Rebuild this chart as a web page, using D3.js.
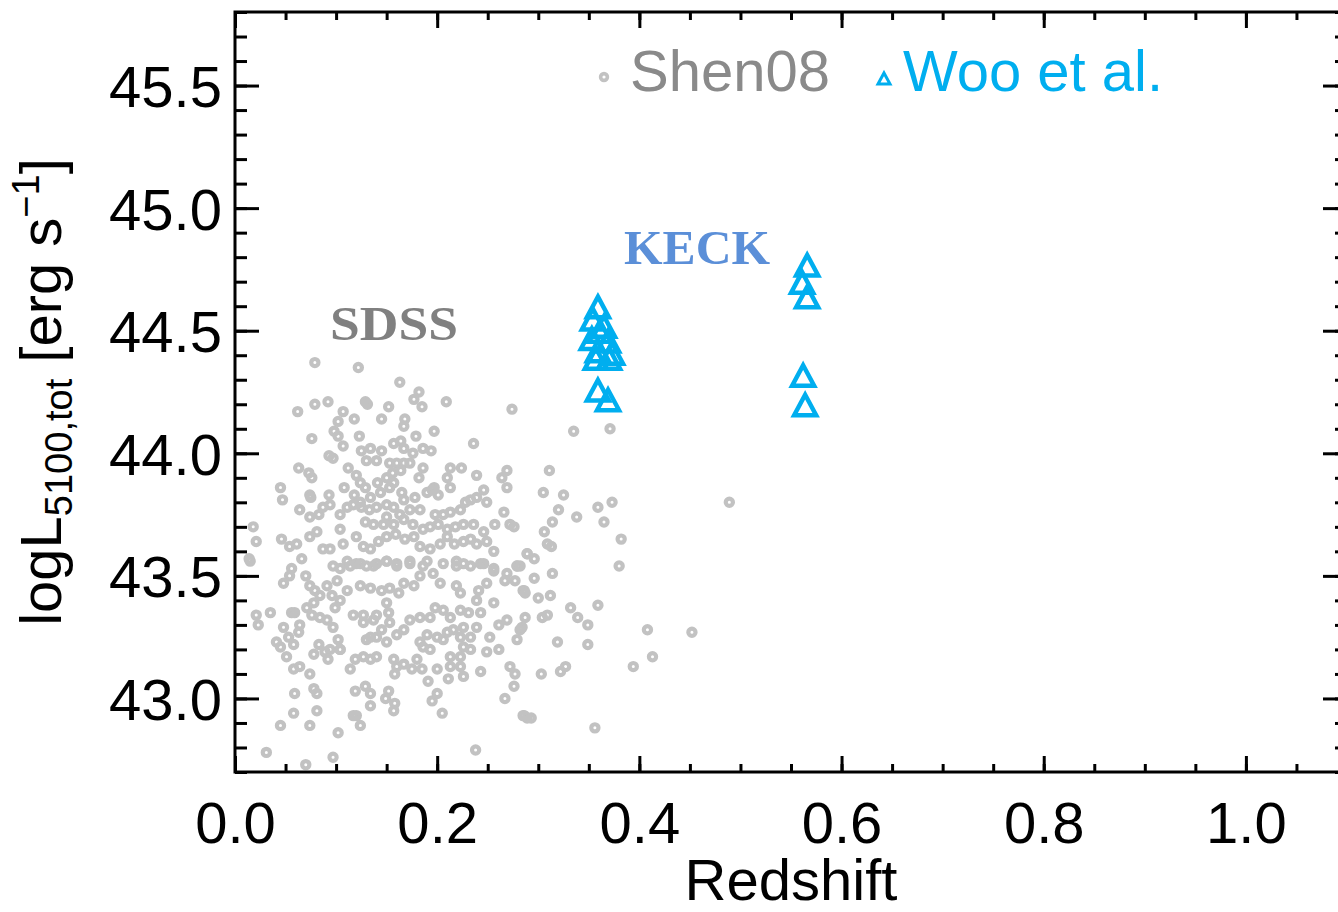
<!DOCTYPE html>
<html>
<head>
<meta charset="utf-8">
<script src="https://cdn.jsdelivr.net/npm/d3@7"></script>
<style>
body { margin: 0; background: #fff; }
svg { display: block; }
</style>
</head>
<body>
<svg id="chart" width="1338" height="912"></svg>
<script>
// Shen08 SDSS sample: [redshift, logL5100]
var shenPoints = [
  [0.079,44.37],[0.122,44.35],[0.163,44.29],[0.182,44.25],[0.177,44.22],[0.185,44.19],[0.209,44.21],[0.274,44.18],[0.062,44.17],[0.079,44.20],
  [0.092,44.21],[0.107,44.17],[0.129,44.21],[0.131,44.20],[0.152,44.19],[0.118,44.14],[0.145,44.14],[0.168,44.14],[0.167,44.11],[0.102,44.13],
  [0.098,44.09],[0.102,44.07],[0.107,44.03],[0.123,44.07],[0.179,44.07],[0.197,44.09],[0.076,44.06],[0.236,44.04],[0.093,43.99],[0.097,43.98],
  [0.125,44.01],[0.134,44.02],[0.145,44.01],[0.157,44.04],[0.164,44.05],[0.167,44.02],[0.176,44.00],[0.186,44.02],[0.194,44.01],[0.130,43.97],
  [0.140,43.97],[0.153,43.96],[0.160,43.96],[0.167,43.96],[0.173,43.96],[0.063,43.94],[0.073,43.92],[0.076,43.90],[0.112,43.94],[0.120,43.91],
  [0.124,43.88],[0.129,43.86],[0.141,43.88],[0.150,43.90],[0.156,43.92],[0.164,43.93],[0.182,43.90],[0.186,43.94],[0.197,43.86],[0.201,43.83],
  [0.210,43.90],[0.213,43.94],[0.213,43.86],[0.224,43.94],[0.239,43.91],[0.269,43.93],[0.264,43.90],[0.269,43.86],[0.045,43.86],[0.047,43.81],
  [0.074,43.83],[0.075,43.82],[0.093,43.83],[0.108,43.86],[0.118,43.83],[0.124,43.80],[0.134,43.82],[0.144,43.84],[0.153,43.86],[0.157,43.88],
  [0.165,43.84],[0.167,43.81],[0.178,43.82],[0.190,43.84],[0.195,43.85],[0.198,43.75],[0.206,43.75],[0.213,43.76],[0.223,43.77],[0.228,43.80],
  [0.233,43.81],[0.239,43.82],[0.246,43.85],[0.249,43.80],[0.266,43.76],[0.272,43.71],[0.276,43.70],[0.064,43.77],[0.074,43.74],[0.083,43.75],
  [0.087,43.78],[0.094,43.79],[0.104,43.75],[0.111,43.78],[0.117,43.79],[0.125,43.78],[0.133,43.77],[0.140,43.78],[0.150,43.79],[0.157,43.78],
  [0.163,43.75],[0.173,43.77],[0.183,43.77],[0.150,43.74],[0.129,43.72],[0.137,43.71],[0.147,43.71],[0.157,43.71],[0.167,43.73],[0.176,43.71],
  [0.186,43.69],[0.193,43.70],[0.201,43.71],[0.210,43.69],[0.218,43.70],[0.226,43.71],[0.236,43.71],[0.246,43.68],[0.257,43.71],[0.018,43.70],
  [0.021,43.64],[0.014,43.57],[0.046,43.65],[0.054,43.62],[0.061,43.63],[0.066,43.57],[0.074,43.66],[0.081,43.68],[0.087,43.61],[0.094,43.61],
  [0.104,43.69],[0.107,43.63],[0.120,43.66],[0.127,43.62],[0.134,43.61],[0.142,43.64],[0.150,43.66],[0.159,43.67],[0.168,43.65],[0.177,43.66],
  [0.183,43.62],[0.193,43.61],[0.203,43.63],[0.210,43.66],[0.217,43.63],[0.226,43.64],[0.233,43.65],[0.239,43.63],[0.249,43.64],[0.256,43.60],
  [0.289,43.59],[0.279,43.54],[0.097,43.54],[0.111,43.56],[0.120,43.55],[0.137,43.54],[0.150,43.56],[0.160,43.55],[0.173,43.56],[0.190,43.56],
  [0.219,43.56],[0.226,43.55],[0.243,43.55],[0.256,43.53],
  [0.015,43.56],[0.056,43.53],[0.054,43.50],[0.048,43.47],[0.070,43.50],[0.074,43.46],[0.079,43.44],[0.091,43.46],[0.101,43.48],[0.104,43.53],
  [0.114,43.54],[0.124,43.55],[0.130,43.54],[0.140,43.55],[0.150,43.56],[0.160,43.54],[0.173,43.55],[0.186,43.54],[0.206,43.55],[0.219,43.54],
  [0.233,43.54],[0.246,43.55],[0.256,43.52],[0.269,43.51],[0.279,43.54],[0.285,43.44],[0.277,43.48],[0.267,43.48],[0.249,43.47],[0.241,43.44],
  [0.239,43.40],[0.223,43.43],[0.219,43.46],[0.203,43.47],[0.196,43.51],[0.183,43.50],[0.177,43.46],[0.167,43.47],[0.162,43.43],[0.153,43.45],
  [0.145,43.44],[0.134,43.45],[0.124,43.46],[0.111,43.44],[0.104,43.40],[0.099,43.37],[0.096,43.42],[0.084,43.42],[0.078,43.39],[0.071,43.37],
  [0.059,43.35],[0.056,43.35],[0.035,43.35],[0.021,43.34],[0.023,43.30],[0.048,43.29],[0.053,43.25],[0.064,43.30],[0.063,43.27],[0.058,43.22],
  [0.041,43.23],[0.045,43.21],[0.051,43.17],[0.058,43.12],[0.064,43.13],[0.074,43.10],[0.078,43.18],[0.083,43.22],[0.089,43.19],[0.094,43.20],
  [0.104,43.20],[0.102,43.24],[0.097,43.29],[0.091,43.32],[0.084,43.33],[0.076,43.34],[0.117,43.34],[0.127,43.34],[0.127,43.31],[0.137,43.32],
  [0.140,43.34],[0.150,43.39],[0.152,43.35],[0.153,43.31],[0.145,43.28],[0.134,43.25],[0.130,43.24],[0.140,43.25],[0.150,43.23],[0.160,43.26],
  [0.167,43.28],[0.173,43.32],[0.183,43.33],[0.193,43.33],[0.198,43.37],[0.206,43.36],[0.213,43.33],[0.223,43.36],[0.231,43.35],[0.226,43.29],
  [0.223,43.25],[0.233,43.25],[0.239,43.29],[0.243,43.35],[0.256,43.39],[0.261,43.30],[0.269,43.32],[0.282,43.28],[0.279,43.24],[0.252,43.25],
  [0.249,43.19],[0.261,43.20],[0.233,43.20],[0.226,43.21],[0.223,43.17],[0.213,43.17],[0.213,43.13],[0.223,43.13],[0.226,43.09],[0.211,43.08],
  [0.200,43.12],[0.193,43.20],[0.186,43.21],[0.183,43.23],[0.190,43.26],[0.200,43.25],[0.206,43.24],[0.210,43.27],[0.216,43.28],[0.180,43.16],
  [0.167,43.14],[0.160,43.13],[0.158,43.10],[0.175,43.12],[0.185,43.12],[0.191,43.07],[0.157,43.16],[0.140,43.17],[0.134,43.16],[0.127,43.17],
  [0.119,43.16],[0.114,43.12],[0.104,43.20],[0.092,43.16],[0.081,43.02],[0.078,43.04],[0.059,43.02],[0.058,42.94],[0.045,42.89],[0.074,42.89],
  [0.081,42.95],[0.102,42.86],[0.117,42.93],[0.120,42.93],[0.124,42.89],[0.129,43.05],[0.134,42.97],[0.119,43.03],[0.134,43.02],[0.149,43.00],
  [0.152,43.03],[0.158,42.98],[0.157,42.95],[0.195,42.99],[0.200,43.02],[0.205,42.94],[0.243,43.11],[0.272,43.13],[0.277,43.10],[0.276,43.05],
  [0.267,43.00],[0.285,42.93],[0.289,42.92],[0.031,42.78],[0.070,42.73],[0.097,42.76],[0.238,42.79],
  [0.335,44.09],[0.371,44.10],[0.311,43.93],[0.305,43.84],[0.325,43.83],[0.320,43.77],[0.314,43.72],[0.306,43.68],[0.309,43.63],[0.313,43.62],
  [0.338,43.74],[0.359,43.78],[0.373,43.80],[0.365,43.72],[0.382,43.65],[0.380,43.54],[0.489,43.80],[0.289,43.59],[0.296,43.57],[0.282,43.54],
  [0.296,43.49],[0.314,43.51],[0.286,43.44],[0.287,43.43],[0.300,43.41],[0.312,43.42],[0.332,43.37],[0.339,43.33],[0.349,43.30],[0.359,43.38],
  [0.287,43.33],[0.304,43.33],[0.309,43.34],[0.284,43.29],[0.319,43.23],[0.349,43.22],[0.322,43.11],[0.327,43.13],[0.303,43.10],[0.394,43.13],
  [0.413,43.17],[0.408,43.28],[0.452,43.27],[0.286,42.93],[0.293,42.92],[0.356,42.88]
]

// Woo et al. KECK sample: [redshift, logL5100]
var wooPoints = [
  [0.359,44.59],[0.354,44.54],[0.365,44.51],[0.353,44.46],[0.369,44.45],[0.359,44.41],[0.373,44.40],[0.357,44.38],[0.370,44.38],[0.361,44.49],
  [0.359,44.25],[0.369,44.21],
  [0.566,44.76],[0.561,44.69],[0.566,44.63],[0.562,44.31],[0.564,44.19]
]

var xDomain = [0, 1.1]
var yDomain = [42.7, 45.8]
var xMajor = [0.0, 0.2, 0.4, 0.6, 0.8, 1.0]
var yMajor = [43.0, 43.5, 44.0, 44.5, 45.0, 45.5]
var xMinor = d3.range(0, 1.1001, 0.05)
var yMinor = d3.range(42.7, 45.8001, 0.1)
var legendLabels = ["Shen08", "Woo et al."]
var sampleLabels = ["SDSS", "KECK"]

var font = "'Liberation Sans', Arial, Helvetica, sans-serif"
var serif = "'Liberation Serif', 'Times New Roman', serif"
var grey = "#c2c2c2"
var blue = "#00aeef"

var svg = d3.select("#chart")
var xScale = d3.scaleLinear().domain(xDomain).range([235, 1347])
var yScale = d3.scaleLinear().domain(yDomain).range([772, 12])

var style_axis = function (g) {
  g.select(".domain").remove()
  g.selectAll(".tick line").attr("stroke", "#000").attr("stroke-width", 3)
  g.selectAll("text").attr("font-family", font).attr("font-size", 58).attr("fill", "#000")
}

// points first, frame on top
svg.append("g")
  .selectAll("circle")
  .data(shenPoints)
  .join("circle")
  .attr("cx", d => xScale(d[0]))
  .attr("cy", d => yScale(d[1]))
  .attr("r", 3.6)
  .attr("fill", "none")
  .attr("stroke", grey)
  .attr("stroke-width", 4.2)

var triPath = "M0,-12L11,8.5L-11,8.5Z"
svg.append("g")
  .selectAll("path")
  .data(wooPoints)
  .join("path")
  .attr("d", triPath)
  .attr("transform", d => "translate(" + xScale(d[0]) + "," + yScale(d[1]) + ")")
  .attr("fill", "none")
  .attr("stroke", blue)
  .attr("stroke-width", 4.5)
  .attr("stroke-linejoin", "miter")

// ticks on all four sides, pointing inward
svg.append("g").attr("transform", "translate(0,772)")
  .call(d3.axisBottom(xScale).tickValues(xMinor).tickSize(-8).tickFormat("")).call(style_axis)
svg.append("g").attr("transform", "translate(0,772)")
  .call(d3.axisBottom(xScale).tickValues(xMajor).tickSize(-16).tickPadding(30).tickFormat(d3.format(".1f"))).call(style_axis)
svg.append("g").attr("transform", "translate(0,12)")
  .call(d3.axisTop(xScale).tickValues(xMinor).tickSize(-8).tickFormat("")).call(style_axis)
svg.append("g").attr("transform", "translate(0,12)")
  .call(d3.axisTop(xScale).tickValues(xMajor).tickSize(-16).tickFormat("")).call(style_axis)

svg.append("g").attr("transform", "translate(235,0)")
  .call(d3.axisLeft(yScale).tickValues(yMinor).tickSize(-12).tickFormat("")).call(style_axis)
var yAxisG = svg.append("g").attr("transform", "translate(235,0)")
  .call(d3.axisLeft(yScale).tickValues(yMajor).tickSize(-24).tickPadding(13).tickFormat(d3.format(".1f"))).call(style_axis)
yAxisG.selectAll("text").attr("dy", "0.36em")
svg.append("g").attr("transform", "translate(1347,0)")
  .call(d3.axisRight(yScale).tickValues(yMinor).tickSize(-12).tickFormat("")).call(style_axis)
svg.append("g").attr("transform", "translate(1347,0)")
  .call(d3.axisRight(yScale).tickValues(yMajor).tickSize(-24).tickFormat("")).call(style_axis)

svg.append("rect")
  .attr("x", xScale(xDomain[0]))
  .attr("y", yScale(yDomain[1]))
  .attr("width", xScale(xDomain[1]) - xScale(xDomain[0]))
  .attr("height", yScale(yDomain[0]) - yScale(yDomain[1]))
  .attr("fill", "none")
  .attr("stroke", "#000")
  .attr("stroke-width", 3)

// axis titles
svg.append("text")
  .attr("x", 791)
  .attr("y", 900)
  .attr("text-anchor", "middle")
  .attr("font-family", font)
  .attr("font-size", 58)
  .text("Redshift")

var yTitle = svg.append("text")
  .attr("transform", "translate(61,392) rotate(-90)")
  .attr("text-anchor", "middle")
  .attr("font-family", font)
  .attr("font-size", 58)
  .style("white-space", "pre")
yTitle.append("tspan").text("logL")
yTitle.append("tspan").attr("font-size", 38).attr("dy", 11).text("5100,tot")
yTitle.append("tspan").attr("dy", -11).text(" [erg s")
yTitle.append("tspan").attr("font-size", 38).attr("dy", -22).text("\u22121")
yTitle.append("tspan").attr("dy", 22).text("]")

// legend
svg.append("circle").attr("cx", 604).attr("cy", 77).attr("r", 3.4)
  .attr("fill", "none").attr("stroke", grey).attr("stroke-width", 3.6)
svg.append("text").attr("x", 630).attr("y", 91)
  .attr("font-family", font).attr("font-size", 58).attr("fill", "#8a8a8a")
  .text(legendLabels[0])
svg.append("path").attr("d", "M0,-6L6,5L-6,5Z").attr("transform", "translate(884,79)")
  .attr("fill", "none").attr("stroke", blue).attr("stroke-width", 3)
svg.append("text").attr("x", 903).attr("y", 91)
  .attr("font-family", font).attr("font-size", 58).attr("fill", blue)
  .text(legendLabels[1])

// sample labels
svg.append("text").attr("x", 330).attr("y", 340)
  .attr("font-family", serif).attr("font-weight", "bold").attr("font-size", 48)
  .attr("textLength", 128).attr("lengthAdjust", "spacingAndGlyphs").attr("fill", "#808080")
  .text(sampleLabels[0])
svg.append("text").attr("x", 624).attr("y", 264)
  .attr("font-family", serif).attr("font-weight", "bold").attr("font-size", 48)
  .attr("textLength", 146).attr("lengthAdjust", "spacingAndGlyphs").attr("fill", "#5b8fd8")
  .text(sampleLabels[1])
</script>
</body>
</html>
